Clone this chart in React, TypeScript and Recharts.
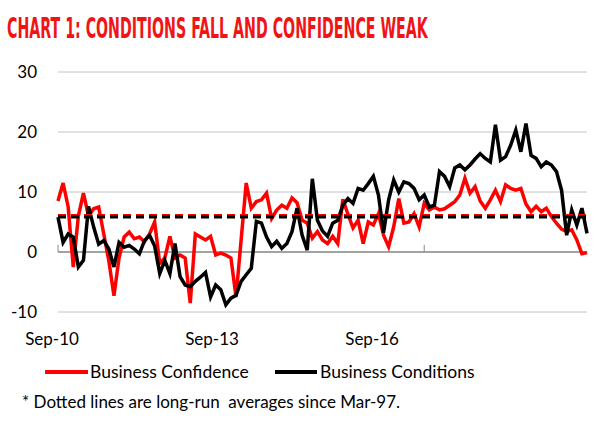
import { LineChart, Line, XAxis, YAxis, CartesianGrid, ReferenceLine } from "recharts";

// ── data ──────────────────────────────────────────────────────────────────

const MONTH_NAMES = ["Jan", "Feb", "Mar", "Apr", "May", "Jun", "Jul", "Aug", "Sep", "Oct", "Nov", "Dec"];
const START_YEAR = 2010;
const START_MONTH = 8; // Sep

// NAB business confidence, monthly from Sep-10
const confidence = [
  8.5, 11.5, 7.5, -2.5, 6, 9.8, 6, 7.2, 7.5, 3,
  -1.5, -7.3, -1, 2.5, 3.3, 2.2, 2.5, 1.7, 3, 5,
  -1.9, -1, 2.6, -1, -0.5, -1, -8.5, 3, 2.5, 2,
  2.6, -0.5, -0.2, -0.5, -1, -7.5, 2, 11.5, 7.3, 8.4,
  8.7, 9.8, 5.6, 7, 7.8, 7.3, 9, 8.2, 5.3, 4.8,
  2.3, 3.4, 2, 1.4, 2.6, 1.4, 8.8, 6.3, 4, 5.3,
  1.4, 5, 4.5, 6.4, 2.8, 0.9, 4.2, 8.9, 4.8, 5,
  6.4, 4.2, 8.1, 7, 7.5, 7, 7.2, 7.8, 8.4, 9.5,
  12.3, 9.8, 10.9, 8.5, 7.3, 8.7, 10.3, 8.4, 11.2, 10.6,
  10.3, 10.6, 8, 6.7, 7.6, 6.7, 7.3, 5.9, 4.8, 3.8,
  3.4, 3.7, 2, -0.3, -0.1,
];

// NAB business conditions, monthly from Sep-10
const conditions = [
  5.8, 1.6, 3, 2.5, -2.5, -1.4, 7.6, 4.2, 1.3, 1.9,
  0.5, -2.5, 1.6, 0.8, 1.1, 0.5, -0.3, 1.9, 2.8, 1,
  -3.6, -1.4, -3.6, 1.4, -4.1, -5.5, -5.8, -4.9, -4.2, -3.4,
  -7.5, -5.5, -6.3, -8.8, -7.7, -7.2, -4.9, -3.8, -2.7, 5.1,
  4.8, 2.5, 0.9, 1.8, 0.6, 1.4, 3.4, 7.3, 2.8, 0.3,
  12.2, 5.3, 3.5, 2.6, 4.8, 5.3, 7.8, 8.9, 8.1, 10.6,
  10.3, 11.4, 12.6, 9.5, 3.2, 8.7, 12, 10, 11.7, 11.4,
  10.6, 8.7, 9.5, 7.5, 7.8, 13.4, 12.6, 10.9, 14, 14.5,
  13.7, 14.5, 15.5, 16.4, 15.6, 15, 21.2, 15.3, 15.9, 17.8,
  20.3, 16.7, 21.4, 16.1, 15.6, 14.2, 15, 14.5, 13.4, 10.3,
  2.8, 7, 4.5, 7.3, 3.1,
];

// long-run averages since Mar-97
const CONFIDENCE_AVG = 6.1;
const CONDITIONS_AVG = 5.85;

const Y_TICKS = [-10, 0, 10, 20, 30];
const X_TICKS = ["Sep-10", "Sep-13", "Sep-16"];

function monthLabel(i: number) {
  const m = START_MONTH + i;
  const year = START_YEAR + Math.floor(m / 12);
  return `${MONTH_NAMES[m % 12]}-${String(year % 100).padStart(2, "0")}`;
}

const rows = confidence.map((v, i) => ({
  month: monthLabel(i),
  confidence: v,
  conditions: conditions[i],
}));

// ── theme ─────────────────────────────────────────────────────────────────

const FONT = "Lato, 'Open Sans', sans-serif";
const RED = "#ff0000";
const GRID = "#c4c4c4";
const PLOT_LEFT = 58;

const TITLE = "CHART 1: CONDITIONS FALL AND CONFIDENCE WEAK";
const TITLE_FAMILY = "'DejaVu Sans Condensed', 'Liberation Sans', sans-serif";
const TITLE_SIZE = 28;
const TITLE_WIDTH = 421;

// squeeze the title into the width of the original condensed face
function titleScale() {
  const ctx = document.createElement("canvas").getContext("2d");
  if (!ctx) return 1;
  ctx.font = `bold ${TITLE_SIZE}px ${TITLE_FAMILY}`;
  const w = ctx.measureText(TITLE).width;
  return w > 0 ? TITLE_WIDTH / w : 1;
}

// Excel drew the date labels a little left of their tick marks
function MonthTick(props: any) {
  const { x, y, payload } = props;
  const lx = x - 6 - (x - PLOT_LEFT) * 0.126;
  return (
    <text x={lx} y={y} dy="0.71em" textAnchor="middle" fontFamily={FONT} fontSize={17} fill="#000">
      {payload.value}
    </text>
  );
}

export default function App() {
  const sx = titleScale();
  return (
    <div style={{ position: "absolute", left: 0, top: 0, width: 600, height: 422, background: "#fff" }}>
      <div style={{ position: "absolute", left: 0, top: 0 }}>
        <LineChart width={600} height={422} data={rows} margin={{ top: 72, right: 13, bottom: 80, left: 0 }}>
          <CartesianGrid horizontal vertical={false} stroke={GRID} strokeWidth={1} />
          <XAxis
            dataKey="month"
            ticks={X_TICKS}
            interval={0}
            axisLine={false}
            tickLine={false}
            tickSize={0}
            tickMargin={21}
            height={30}
            tick={<MonthTick />}
          />
          <YAxis
            domain={[-10, 30]}
            ticks={Y_TICKS}
            interval={0}
            axisLine={false}
            tickLine={false}
            tickSize={0}
            tickMargin={21}
            width={58}
            tick={{ fill: "#000", fontSize: 17, fontFamily: FONT }}
          />
          <ReferenceLine y={0} stroke="#8c8c8c" strokeWidth={1.5} />
          {X_TICKS.map((t) => (
            <ReferenceLine
              key={t}
              segment={[{ x: t, y: 0 }, { x: t, y: 1.2 }]}
              stroke="#8c8c8c"
              strokeWidth={1}
            />
          ))}
          <Line
            type="linear"
            dataKey="confidence"
            stroke={RED}
            strokeWidth={3.5}
            dot={false}
            isAnimationActive={false}
          />
          <Line
            type="linear"
            dataKey="conditions"
            stroke="#000"
            strokeWidth={3.5}
            dot={false}
            isAnimationActive={false}
          />
          <ReferenceLine y={CONFIDENCE_AVG} stroke={RED} strokeWidth={3} strokeDasharray="8 5" />
          <ReferenceLine y={CONDITIONS_AVG} stroke="#000" strokeWidth={3} strokeDasharray="8 5" />
        </LineChart>
      </div>
      <svg width={600} height={422} style={{ position: "absolute", left: 0, top: 0, pointerEvents: "none" }}>
        <text
          transform={`translate(7,38) scale(${sx},1)`}
          fill="#f01414"
          fontFamily={TITLE_FAMILY}
          fontWeight="bold"
          fontSize={TITLE_SIZE}
        >
          {TITLE}
        </text>
        <line x1={45} x2={88} y1={372} y2={372} stroke={RED} strokeWidth={4} />
        <text x={90} y={378} fontFamily={FONT} fontSize={17.5} fill="#000">
          Business Confidence
        </text>
        <line x1={275} x2={317} y1={372} y2={372} stroke="#000" strokeWidth={4} />
        <text x={320} y={378} fontFamily={FONT} fontSize={17.5} fill="#000">
          Business Conditions
        </text>
        <text x={22} y={408} fontFamily={FONT} fontSize={17} fill="#000" style={{ whiteSpace: "pre" }}>
          {"* Dotted lines are long-run  averages since Mar-97."}
        </text>
      </svg>
    </div>
  );
}
